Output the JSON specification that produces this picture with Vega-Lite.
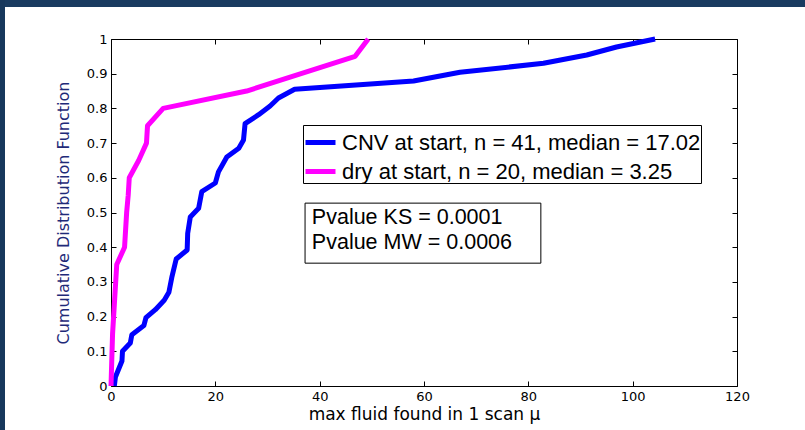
{
  "$schema": "https://vega.github.io/schema/vega-lite/v6.json",
  "padding": 0,
  "background": "white",
  "config": {"view": {"stroke": null}, "font": "DejaVu Sans"},
  "datasets": {
    "frame": [{"part": "border"}],
    "curves": [
      {"series": "CNV at start, n = 41, median = 17.02", "i": 0, "x": 0.64, "y": 0},
      {"series": "CNV at start, n = 41, median = 17.02", "i": 1, "x": 0.85, "y": 0.026},
      {"series": "CNV at start, n = 41, median = 17.02", "i": 2, "x": 2.1, "y": 0.072},
      {"series": "CNV at start, n = 41, median = 17.02", "i": 3, "x": 2.2, "y": 0.1},
      {"series": "CNV at start, n = 41, median = 17.02", "i": 4, "x": 3.7, "y": 0.124},
      {"series": "CNV at start, n = 41, median = 17.02", "i": 5, "x": 4.0, "y": 0.148},
      {"series": "CNV at start, n = 41, median = 17.02", "i": 6, "x": 6.3, "y": 0.174},
      {"series": "CNV at start, n = 41, median = 17.02", "i": 7, "x": 6.7, "y": 0.197},
      {"series": "CNV at start, n = 41, median = 17.02", "i": 8, "x": 8.5, "y": 0.22},
      {"series": "CNV at start, n = 41, median = 17.02", "i": 9, "x": 10.2, "y": 0.247},
      {"series": "CNV at start, n = 41, median = 17.02", "i": 10, "x": 11.1, "y": 0.27},
      {"series": "CNV at start, n = 41, median = 17.02", "i": 11, "x": 11.7, "y": 0.316},
      {"series": "CNV at start, n = 41, median = 17.02", "i": 12, "x": 12.5, "y": 0.366},
      {"series": "CNV at start, n = 41, median = 17.02", "i": 13, "x": 14.6, "y": 0.392},
      {"series": "CNV at start, n = 41, median = 17.02", "i": 14, "x": 14.7, "y": 0.44},
      {"series": "CNV at start, n = 41, median = 17.02", "i": 15, "x": 15.2, "y": 0.487},
      {"series": "CNV at start, n = 41, median = 17.02", "i": 16, "x": 16.8, "y": 0.512},
      {"series": "CNV at start, n = 41, median = 17.02", "i": 17, "x": 17.4, "y": 0.56},
      {"series": "CNV at start, n = 41, median = 17.02", "i": 18, "x": 20.0, "y": 0.585},
      {"series": "CNV at start, n = 41, median = 17.02", "i": 19, "x": 20.6, "y": 0.617},
      {"series": "CNV at start, n = 41, median = 17.02", "i": 20, "x": 22.2, "y": 0.66},
      {"series": "CNV at start, n = 41, median = 17.02", "i": 21, "x": 24.5, "y": 0.685},
      {"series": "CNV at start, n = 41, median = 17.02", "i": 22, "x": 25.4, "y": 0.709},
      {"series": "CNV at start, n = 41, median = 17.02", "i": 23, "x": 25.7, "y": 0.756},
      {"series": "CNV at start, n = 41, median = 17.02", "i": 24, "x": 28.3, "y": 0.782},
      {"series": "CNV at start, n = 41, median = 17.02", "i": 25, "x": 30.5, "y": 0.807},
      {"series": "CNV at start, n = 41, median = 17.02", "i": 26, "x": 32.1, "y": 0.83},
      {"series": "CNV at start, n = 41, median = 17.02", "i": 27, "x": 35.2, "y": 0.855},
      {"series": "CNV at start, n = 41, median = 17.02", "i": 28, "x": 58.0, "y": 0.879},
      {"series": "CNV at start, n = 41, median = 17.02", "i": 29, "x": 66.9, "y": 0.904},
      {"series": "CNV at start, n = 41, median = 17.02", "i": 30, "x": 82.9, "y": 0.93},
      {"series": "CNV at start, n = 41, median = 17.02", "i": 31, "x": 91.2, "y": 0.954},
      {"series": "CNV at start, n = 41, median = 17.02", "i": 32, "x": 96.9, "y": 0.977},
      {"series": "CNV at start, n = 41, median = 17.02", "i": 33, "x": 104.3, "y": 1.0},
      {"series": "dry at start, n = 20, median = 3.25", "i": 0, "x": 0, "y": 0},
      {"series": "dry at start, n = 20, median = 3.25", "i": 1, "x": 0.3, "y": 0.15},
      {"series": "dry at start, n = 20, median = 3.25", "i": 2, "x": 1.1, "y": 0.35},
      {"series": "dry at start, n = 20, median = 3.25", "i": 3, "x": 2.6, "y": 0.4},
      {"series": "dry at start, n = 20, median = 3.25", "i": 4, "x": 3.0, "y": 0.5},
      {"series": "dry at start, n = 20, median = 3.25", "i": 5, "x": 3.3, "y": 0.55},
      {"series": "dry at start, n = 20, median = 3.25", "i": 6, "x": 3.5, "y": 0.6},
      {"series": "dry at start, n = 20, median = 3.25", "i": 7, "x": 5.3, "y": 0.65},
      {"series": "dry at start, n = 20, median = 3.25", "i": 8, "x": 6.8, "y": 0.7},
      {"series": "dry at start, n = 20, median = 3.25", "i": 9, "x": 7.0, "y": 0.75},
      {"series": "dry at start, n = 20, median = 3.25", "i": 10, "x": 10.0, "y": 0.8},
      {"series": "dry at start, n = 20, median = 3.25", "i": 11, "x": 26.0, "y": 0.85},
      {"series": "dry at start, n = 20, median = 3.25", "i": 12, "x": 46.8, "y": 0.95},
      {"series": "dry at start, n = 20, median = 3.25", "i": 13, "x": 49.3, "y": 1.0}
    ]
  },
  "spacing": 0,
  "bounds": "flush",
  "hconcat": [
    {
      "width": 5,
      "height": 430,
      "data": {"name": "frame"},
      "mark": {"type": "rect", "color": "#17385c"},
      "encoding": {}
    },
    {
      "spacing": 32,
      "bounds": "flush",
      "vconcat": [
        {
          "width": 800,
          "height": 7,
          "data": {"name": "frame"},
          "mark": {"type": "rect", "color": "#193b60"},
          "encoding": {}
        },
        {
          "spacing": 105,
          "bounds": "flush",
          "hconcat": [
            {
              "width": 1,
              "height": 347,
              "data": {"name": "frame"},
              "mark": {"type": "rect", "opacity": 0},
              "encoding": {}
            },
            {
              "width": 626,
              "height": 347,
              "layer": [
                {
                  "data": {"name": "curves"},
                  "mark": {"type": "line", "strokeWidth": 5, "strokeJoin": "round"},
                  "encoding": {
                    "x": {
                      "field": "x", "type": "quantitative",
                      "scale": {"domain": [0, 120], "nice": false, "zero": false},
                      "axis": {
                        "orient": "bottom", "values": [0, 20, 40, 60, 80, 100, 120], "grid": false,
                        "tickSize": -5, "tickColor": "black", "domainColor": "black", "domainWidth": 1,
                        "labelColor": "black", "labelFont": "DejaVu Sans", "labelFontSize": 13, "labelPadding": 9,
                        "labelFlush": false, "labelOverlap": false,
                        "title": "max fluid found in 1 scan μ", "titleFont": "DejaVu Sans", "titleFontSize": 17,
                        "titleFontWeight": "normal", "titleColor": "black", "titlePadding": 3
                      }
                    },
                    "y": {
                      "field": "y", "type": "quantitative",
                      "scale": {"domain": [0, 1], "nice": false},
                      "axis": {
                        "orient": "left", "values": [0, 0.1, 0.2, 0.3, 0.4, 0.5, 0.6, 0.7, 0.8, 0.9, 1], "format": "~g", "grid": false,
                        "tickSize": -5, "tickColor": "black", "domainColor": "black", "domainWidth": 1,
                        "labelColor": "black", "labelFont": "DejaVu Sans", "labelFontSize": 13, "labelPadding": 9,
                        "labelFlush": false, "labelOverlap": false,
                        "title": "Cumulative Distribution Function", "titleFont": "DejaVu Sans", "titleFontSize": 16,
                        "titleFontWeight": "normal", "titleColor": "#1f2a78", "titlePadding": 15
                      }
                    },
                    "color": {
                      "field": "series", "type": "nominal",
                      "scale": {"domain": ["CNV at start, n = 41, median = 17.02", "dry at start, n = 20, median = 3.25"], "range": ["#0000ff", "#ff00ff"]},
                      "legend": {
                        "title": null, "orient": "none", "legendX": 303, "legendY": 125, "direction": "vertical",
                        "symbolType": "stroke", "symbolStrokeWidth": 5, "symbolSize": 900,
                        "labelFont": "Liberation Sans", "labelFontSize": 22, "labelColor": "black", "labelLimit": 700,
                        "labelOffset": 4, "rowPadding": -5, "padding": 0,
                        "strokeColor": "black", "fillColor": "white", "cornerRadius": 0
                      }
                    },
                    "order": {"field": "i", "type": "quantitative"}
                  }
                },
                {
                  "data": {"name": "curves"},
                  "mark": {"type": "line", "opacity": 0},
                  "encoding": {
                    "x": {
                      "field": "x", "type": "quantitative",
                      "axis": {
                        "orient": "top", "values": [0, 20, 40, 60, 80, 100, 120], "grid": false, "labels": false, "title": null,
                        "tickSize": -5, "tickColor": "black", "domainColor": "black", "domainWidth": 1
                      }
                    },
                    "y": {
                      "field": "y", "type": "quantitative",
                      "axis": {
                        "orient": "right", "values": [0, 0.1, 0.2, 0.3, 0.4, 0.5, 0.6, 0.7, 0.8, 0.9, 1], "grid": false, "labels": false, "title": null,
                        "tickSize": -5, "tickColor": "black", "domainColor": "black", "domainWidth": 1
                      }
                    },
                    "detail": {"field": "series", "type": "nominal"},
                    "order": {"field": "i", "type": "quantitative"}
                  }
                },
                {
                  "data": {"values": [{"box": "pvalues"}]},
                  "mark": {"type": "rect", "fill": "white", "stroke": "black", "strokeWidth": 1},
                  "encoding": {
                    "x": {"datum": 37.2, "type": "quantitative", "axis": null},
                    "x2": {"datum": 82.4},
                    "y": {"datum": 0.527, "type": "quantitative", "axis": null},
                    "y2": {"datum": 0.354}
                  }
                },
                {
                  "data": {"values": [{"box": "pvalues"}]},
                  "mark": {
                    "type": "text", "text": ["Pvalue KS = 0.0001", "Pvalue MW = 0.0006"],
                    "align": "left", "baseline": "alphabetic", "lineHeight": 25,
                    "font": "Liberation Sans", "fontSize": 21.5, "color": "black"
                  },
                  "encoding": {
                    "x": {"datum": 38.5, "type": "quantitative", "axis": null},
                    "y": {"datum": 0.467, "type": "quantitative", "axis": null}
                  }
                }
              ],
              "resolve": {"axis": {"x": "independent", "y": "independent"}}
            }
          ]
        }
      ]
    }
  ]
}
